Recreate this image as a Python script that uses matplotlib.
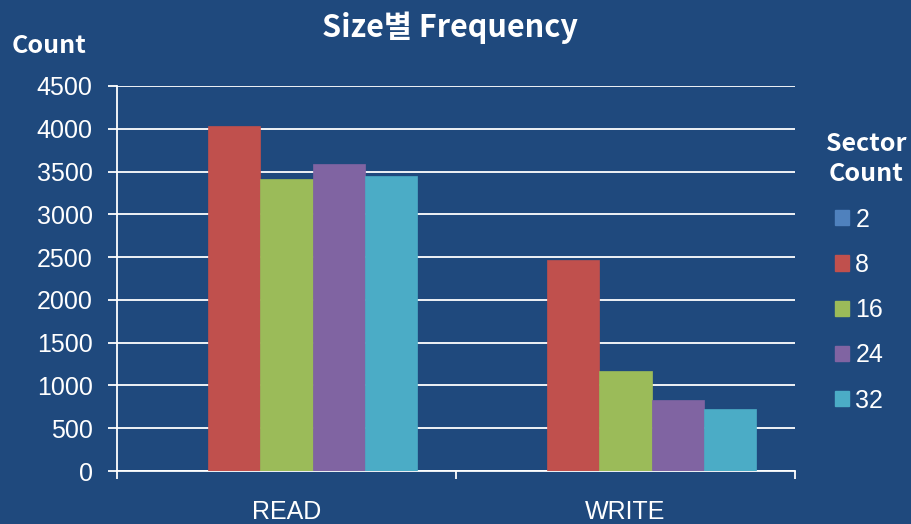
import matplotlib.pyplot as plt
import numpy as np
from matplotlib.patches import Patch

# data
categories = ['READ', 'WRITE']
sector_counts = ['2', '8', '16', '24', '32']
count_2 = [0, 0]
count_8 = [4035, 2461]
count_16 = [3414, 1165]
count_24 = [3591, 831]
count_32 = [3446, 725]
colors = ['#4F81BD', '#C0504D', '#9BBB59', '#8064A2', '#4BACC6']

bg = '#1F497D'
plt.rcParams['font.family'] = ['Liberation Sans', 'DejaVu Sans']
kr_font = ['Noto Sans CJK KR', 'DejaVu Sans']

fig = plt.figure(figsize=(9.11, 5.24), dpi=100, facecolor=bg)
ax = fig.add_axes([0.1284, 0.1011, 0.8727 - 0.1284, 0.8359 - 0.1011], facecolor=bg)

series = [count_2, count_8, count_16, count_24, count_32]
x = np.arange(len(categories))
width = 0.1538
for i, vals in enumerate(series):
    ax.bar(x + (i - 2) * width, vals, width, color=colors[i], edgecolor=colors[i],
           linewidth=0.5, zorder=3, label=sector_counts[i])

ax.set_xlim(-0.5, 1.5)
ax.set_ylim(0, 4500)
ax.set_yticks(range(0, 4501, 500))
ax.grid(axis='y', color='white', linewidth=1.3, zorder=1)
ax.set_axisbelow(True)

ax.set_xticks(x)
ax.set_xticklabels(categories)
ax.set_xticks([-0.5, 0.5, 1.5], minor=True)
ax.tick_params(axis='x', which='major', length=0, pad=21, labelsize=18, labelcolor='white')
ax.tick_params(axis='x', which='minor', length=6, width=1.3, color='white', direction='out')
ax.tick_params(axis='y', length=6.5, width=1.3, color='white', labelsize=18, labelcolor='white', pad=11)

for side in ['top', 'right']:
    ax.spines[side].set_visible(False)
for side in ['left', 'bottom']:
    ax.spines[side].set_color('white')
    ax.spines[side].set_linewidth(1.3)

fig.text(0.494, 0.947, 'Size별 Frequency', ha='center', va='center', color='white',
         fontsize=22, fontweight='bold', family=kr_font)
fig.text(0.013, 0.912, 'Count', ha='left', va='center', color='white',
         fontsize=18, fontweight='bold', family=kr_font)

# legend title drawn on its own so it can sit centred above the entries
fig.text(0.9506, 0.697, 'Sector\nCount', ha='center', va='center', color='white',
         fontsize=18, fontweight='bold', family=kr_font, linespacing=1.3)

handles = [Patch(facecolor=c, edgecolor=c) for c in colors]
leg = fig.legend(handles, sector_counts, loc='upper left', bbox_to_anchor=(0.9166, 0.604),
                 frameon=False, fontsize=18, labelcolor='white', handlelength=0.56,
                 handleheight=0.56, handletextpad=0.25, labelspacing=0.85, borderpad=0,
                 borderaxespad=0)

plt.savefig('out.png', dpi=100, facecolor=bg)
